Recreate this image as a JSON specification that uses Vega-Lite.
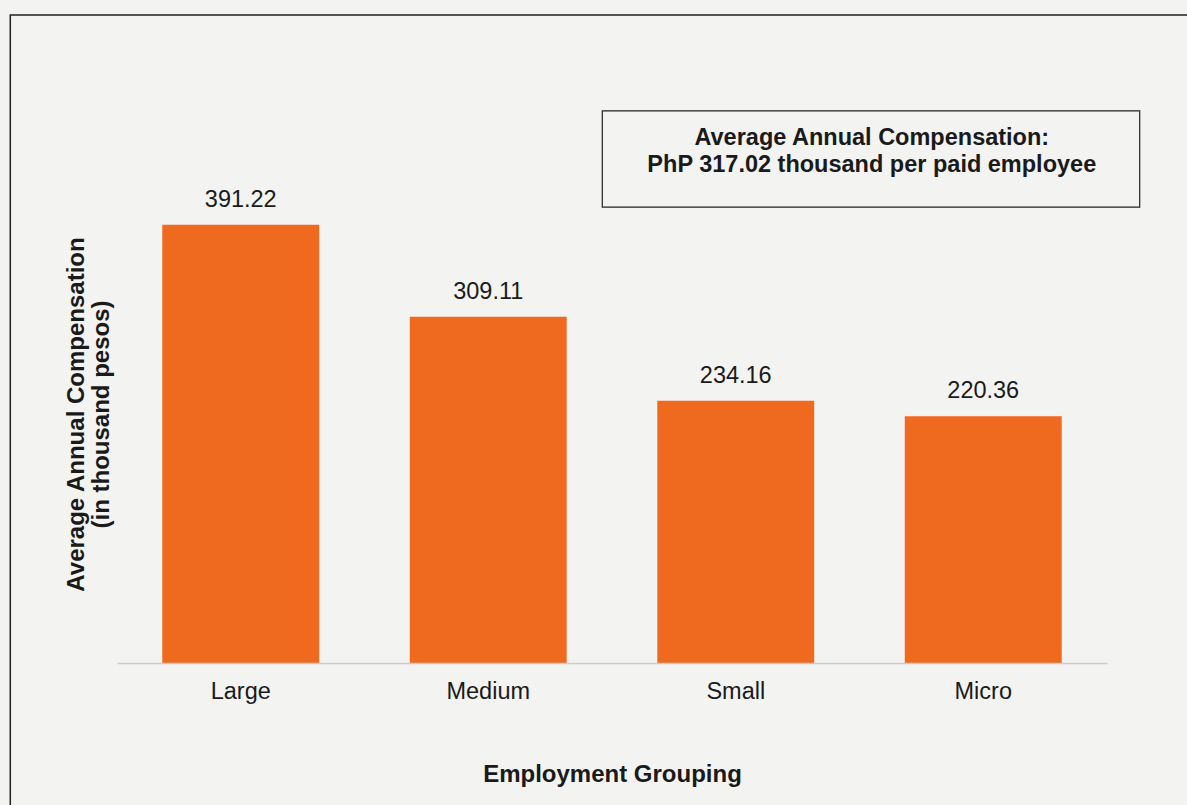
{
  "$schema": "https://vega.github.io/schema/vega-lite/v6.json",
  "autosize": {"type": "none"},
  "width": 990,
  "height": 498,
  "padding": {"left": 117, "top": 165, "right": 80, "bottom": 142},
  "background": "#f3f3f2",
  "config": {
    "view": {"stroke": null},
    "font": "Liberation Sans",
    "text": {"font": "Liberation Sans"}
  },
  "datasets": {
    "bars": [
      {"group": "Large", "value": 391.22},
      {"group": "Medium", "value": 309.11},
      {"group": "Small", "value": 234.16},
      {"group": "Micro", "value": 220.36}
    ],
    "note": [
      {"line1": "Average Annual Compensation:", "line2": "PhP 317.02 thousand per paid employee"}
    ]
  },
  "layer": [
    {
      "data": {"name": "note"},
      "mark": {"type": "rect", "fill": null, "stroke": "#222222", "strokeWidth": 1.5, "xOffset": -152, "x2Offset": 140},
      "encoding": {
        "x": {"datum": "Large", "bandPosition": 0, "type": "nominal"},
        "x2": {"datum": "Micro", "bandPosition": 1},
        "y": {"datum": 578.5, "type": "quantitative"},
        "y2": {"datum": -140}
      }
    },
    {
      "data": {"name": "bars"},
      "mark": {"type": "bar", "color": "#ef6a1e"},
      "encoding": {
        "x": {
          "field": "group",
          "type": "nominal",
          "sort": ["Large", "Medium", "Small", "Micro"],
          "scale": {"paddingInner": 0.366, "paddingOuter": 0.183},
          "axis": {
            "bandPosition": 0.5,
            "title": "Employment Grouping",
            "titleFont": "Liberation Sans",
            "titleFontSize": 24,
            "titleFontWeight": "bold",
            "titleColor": "#1a1a1a",
            "titlePadding": 60,
            "labelAngle": 0,
            "labelAlign": "center",
            "labelFont": "Liberation Sans",
            "labelFontSize": 23.5,
            "labelColor": "#1a1a1a",
            "labelPadding": 28,
            "ticks": false,
            "domainColor": "#cccccc",
            "domainWidth": 1.5
          }
        },
        "y": {
          "field": "value",
          "type": "quantitative",
          "scale": {"domain": [0, 444.64], "nice": false},
          "axis": {
            "title": ["Average Annual Compensation", "(in thousand pesos)"],
            "titleFont": "Liberation Sans",
            "titleFontSize": 24,
            "titleFontWeight": "bold",
            "titleColor": "#1a1a1a",
            "titleLineHeight": 25,
            "titlePadding": 4,
            "labels": false,
            "ticks": false,
            "domain": false,
            "grid": false
          }
        }
      }
    },
    {
      "data": {"name": "bars"},
      "mark": {"type": "text", "baseline": "alphabetic", "dy": -18, "fontSize": 23.5, "color": "#1a1a1a", "font": "Liberation Sans"},
      "encoding": {
        "x": {"field": "group", "type": "nominal", "sort": ["Large", "Medium", "Small", "Micro"]},
        "y": {"field": "value", "type": "quantitative"},
        "text": {"field": "value", "type": "quantitative", "format": ".2f"}
      }
    },
    {
      "data": {"name": "note"},
      "mark": {"type": "rect", "fill": null, "stroke": "#222222", "strokeWidth": 1.2, "xOffset": -55, "x2Offset": 78},
      "encoding": {
        "x": {"datum": "Small", "bandPosition": 0, "type": "nominal"},
        "x2": {"datum": "Micro", "bandPosition": 1},
        "y": {"datum": 493, "type": "quantitative"},
        "y2": {"datum": 407}
      }
    },
    {
      "data": {"name": "note"},
      "mark": {"type": "text", "fontSize": 23.5, "fontWeight": "bold", "color": "#1a1a1a", "font": "Liberation Sans", "align": "center", "baseline": "middle", "dx": -33},
      "encoding": {
        "x": {"datum": "Micro", "bandPosition": 0, "type": "nominal"},
        "y": {"datum": 468.5, "type": "quantitative"},
        "text": {"field": "line1"}
      }
    },
    {
      "data": {"name": "note"},
      "mark": {"type": "text", "fontSize": 23.5, "fontWeight": "bold", "color": "#1a1a1a", "font": "Liberation Sans", "align": "center", "baseline": "middle", "dx": -33},
      "encoding": {
        "x": {"datum": "Micro", "bandPosition": 0, "type": "nominal"},
        "y": {"datum": 444.5, "type": "quantitative"},
        "text": {"field": "line2"}
      }
    }
  ]
}
